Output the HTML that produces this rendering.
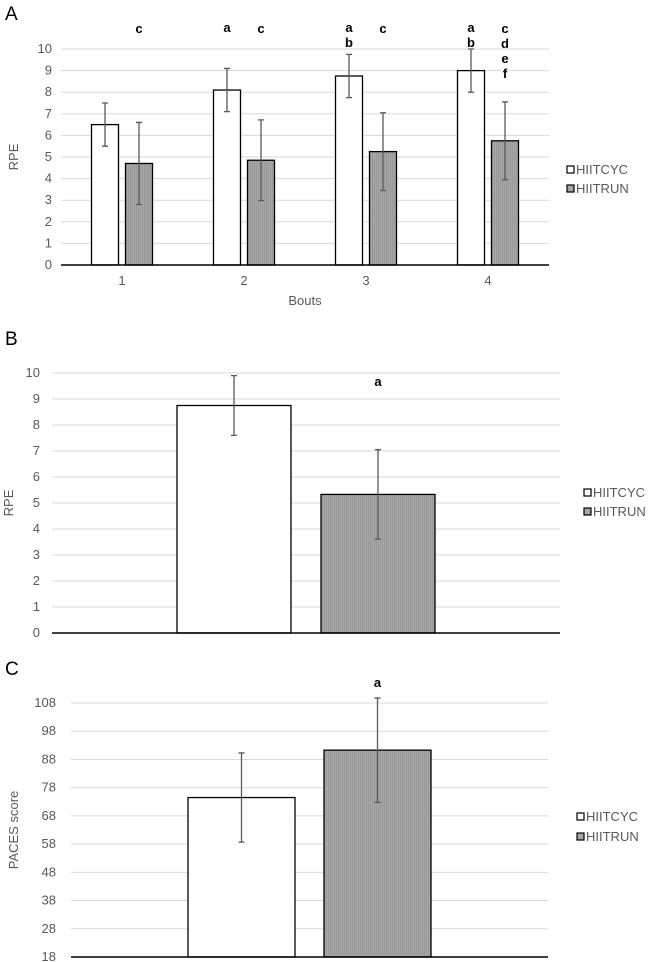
<!DOCTYPE html>
<html><head><meta charset="utf-8"><style>
body{margin:0;background:#fff;}
svg{display:block;font-family:"Liberation Sans",Arial,sans-serif;}
.t{fill:#595959;font-size:13px;}
.l{fill:#000;font-size:13px;font-weight:bold;}
</style></head><body>
<svg id="svg" width="650" height="962">
<defs><pattern id="hatch" width="2" height="2" patternUnits="userSpaceOnUse"><rect width="2" height="2" fill="#a6a6a6"/><rect width="1" height="2" fill="#9a9a9a"/></pattern></defs>
</svg>
<script>
const svg=document.getElementById('svg');
const NS='http://www.w3.org/2000/svg';
function mk(tag,a,parent){const e=document.createElementNS(NS,tag);for(const k in a)e.setAttribute(k,a[k]);(parent||svg).appendChild(e);return e;}
function txt(x,y,s,cls,anchor,extra,parent){const e=mk('text',Object.assign({x:x,y:y,class:cls,'text-anchor':anchor||'middle'},extra||{}),parent);e.textContent=s;return e;}

// Panel A data
const boutsA=['1','2','3','4'];
const cycA=[6.5,8.1,8.75,9.0];
const cycErrA=[1.0,1.0,1.0,1.0];
const runA=[4.7,4.85,5.25,5.75];
const runErrA=[1.9,1.87,1.8,1.8];
const cycLetA=[[],['a'],['a','b'],['a','b']];
const runLetA=[['c'],['c'],['c'],['c','d','e','f']];
const ticksA=[0,1,2,3,4,5,6,7,8,9,10];
// Panel B data
const cycB=[8.75];const cycErrB=[1.15];
const runB=[5.33];const runErrB=[1.72];
const ticksB=[0,1,2,3,4,5,6,7,8,9,10];
// Panel C data
const cycC=[74.5];const cycErrC=[15.8];
const runC=[91.3];const runErrC=[18.5];
const ticksC=[18,28,38,48,58,68,78,88,98,108];

function panel(o){
  const g=mk('g',{});
  
  
  const y=v=>o.y0-(v-o.vmin)/(o.vmax-o.vmin)*(o.y0-o.y1);
  const pl=txt(5,o.labY,o.label,'','start',{'font-size':'19','fill':'#000'});
  
  o.ticks.forEach(t=>{
    if(t!==o.vmin){const gl=mk('line',{x1:o.x0,x2:o.x1,y1:y(t),y2:y(t),stroke:'#d9d9d9','stroke-width':1},g);
    }
    const tl=txt(o.tickX,y(t)+4,String(t),'t','end',{},g);
    
  });
  const yt=txt(0,0,o.ytitle,'t','middle',{transform:`translate(${o.ytx},${(o.y0+o.y1)/2}) rotate(-90)`,'font-size':'15'},g);
  
  const n=o.cyc.length, gw=(o.x1-o.x0)/n;
  for(let i=0;i<n;i++){
    const c=o.x0+gw*(i+0.5);
    [[o.cyc,o.cycErr,'#fff',-1,'bar-hiitcyc'],[o.run,o.runErr,'url(#hatch)',1,'bar-hiitrun']].forEach(([vals,errs,fill,side,nm])=>{
      const bx=side<0?c-o.gap/2-o.bw:c+o.gap/2;
      const r=mk('rect',{x:bx,y:y(vals[i]),width:o.bw,height:o.y0-y(vals[i]),fill:fill,stroke:'#000','stroke-width':1.3},g);
      
      const cx=bx+o.bw/2;
      const eb=mk('path',{d:`M${cx},${y(vals[i]+errs[i])}V${y(vals[i]-errs[i])}M${cx-3},${y(vals[i]+errs[i])}h6M${cx-3},${y(vals[i]-errs[i])}h6`,stroke:'#595959','stroke-width':1.3,fill:'none'},g);
      
      const lets=side<0?o.cycLet[i]:o.runLet[i];
      lets.forEach((s,k)=>{const lt=txt(cx,o.letY[side<0?0:1]+k*15,s,'l','middle',{},g);
        });
    });
    if(o.cats){const xl=txt(c,o.y0+20,o.cats[i],'t','middle',{},g);
      }
  }
  const ax=mk('line',{x1:o.x0,x2:o.x1,y1:o.y0,y2:o.y0,stroke:'#000','stroke-width':1.5},g);
  
  [['#fff','HIITCYC',0,'legend-hiitcyc'],['#a6a6a6','HIITRUN',1,'legend-hiitrun']].forEach(([f,s,k,nm])=>{
    const lg=mk('g',{},g);
    mk('rect',{x:o.legX,y:o.legY+k*o.legDy-8,width:7,height:7,fill:f,stroke:'#000','stroke-width':1.2},lg);
    txt(o.legX+9,o.legY+k*o.legDy,s,'t','start',{'font-size':'12'},lg);
  });
}
panel({name:'panel-a-rpe-bouts',label:'A',labY:20,vmin:0,vmax:10,y0:265,y1:49,x0:61,x1:549,tickX:52,ticks:ticksA,cyc:cycA,cycErr:cycErrA,run:runA,runErr:runErrA,
  cycLet:cycLetA,runLet:runLetA,letY:[32,33],bw:27,gap:7,cats:boutsA,ytitle:'RPE',ytx:18,legX:567,legY:174,legDy:19});
const bt=txt(305,305,'Bouts','t','middle',{'font-size':'15'});

panel({name:'panel-b-rpe',label:'B',labY:345,vmin:0,vmax:10,y0:633,y1:373,x0:52,x1:560,tickX:40,ticks:ticksB,cyc:cycB,cycErr:cycErrB,run:runB,runErr:runErrB,
  cycLet:[[]],runLet:[['a']],letY:[0,386],bw:114,gap:30,cats:null,ytitle:'RPE',ytx:13,legX:584,legY:497,legDy:19});
panel({name:'panel-c-paces',label:'C',labY:675,vmin:18,vmax:108,y0:957,y1:703,x0:71,x1:548,tickX:56,ticks:ticksC,cyc:cycC,cycErr:cycErrC,run:runC,runErr:runErrC,
  cycLet:[[]],runLet:[['a']],letY:[0,687],bw:107,gap:29,cats:null,ytitle:'PACES score',ytx:18,legX:577,legY:821,legDy:20});
</script>
</body></html>
